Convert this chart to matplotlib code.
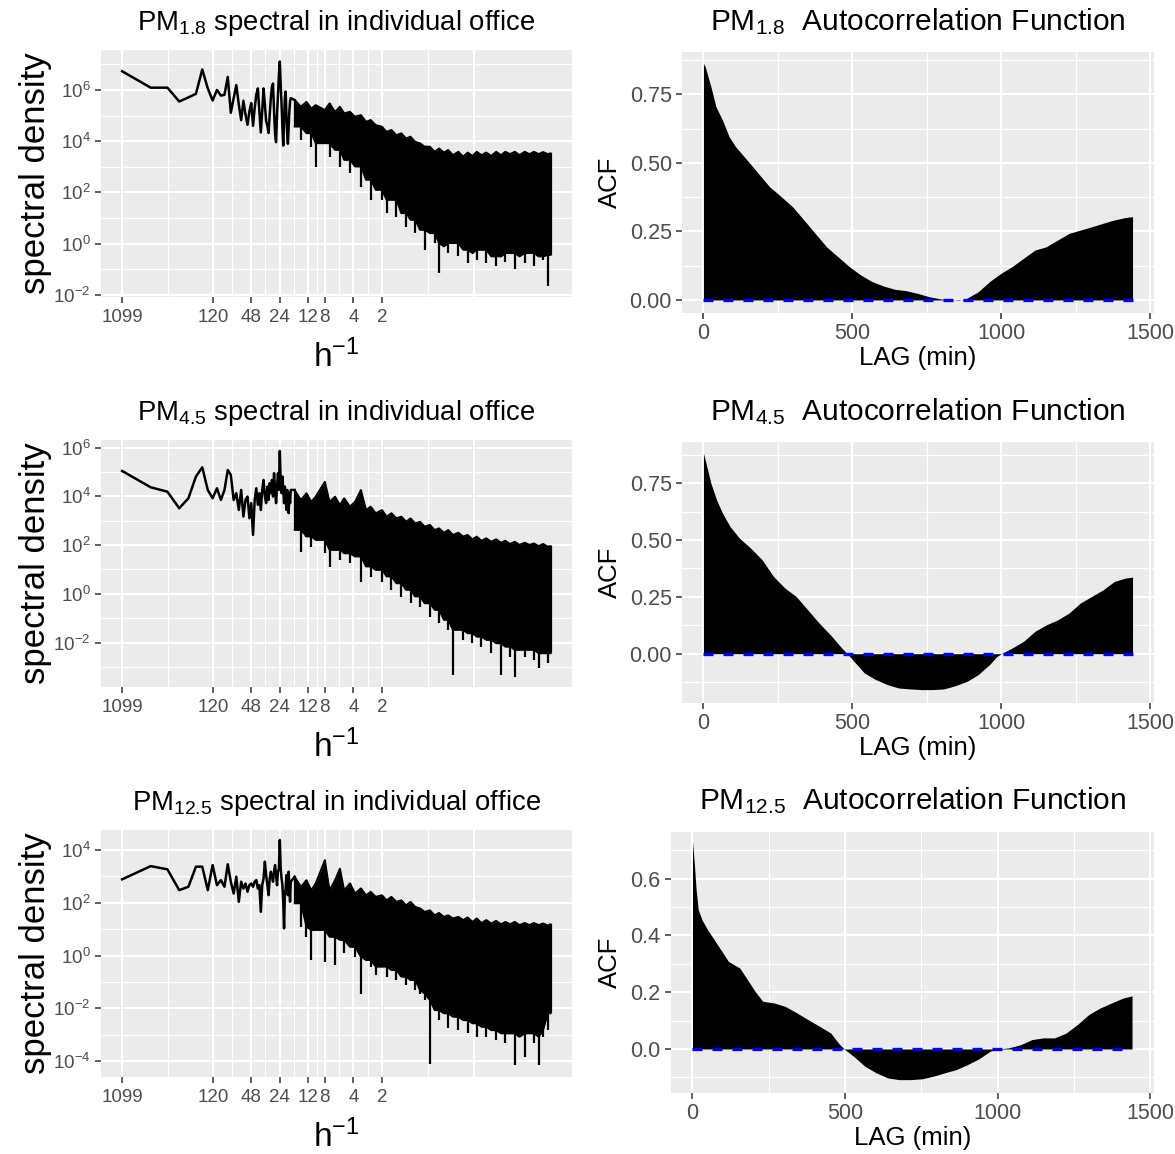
import numpy as np
import matplotlib
matplotlib.use('Agg')
import matplotlib.pyplot as plt
from matplotlib.ticker import FixedLocator, NullFormatter

plt.rcParams['font.family'] = ['Liberation Sans', 'DejaVu Sans']
plt.rcParams['mathtext.fontset'] = 'custom'
plt.rcParams['mathtext.rm'] = 'Liberation Sans'
plt.rcParams['mathtext.it'] = 'Liberation Sans:italic'
plt.rcParams['mathtext.bf'] = 'Liberation Sans:bold'

W, H = 1175, 1154
RECORD_H = 1099          # record length in hours; harmonic k sits at k / 1099 h^-1

# ===================== data =====================
# low-frequency part of the periodogram: one value per harmonic (log10 of spectral density)
harmonic = list(range(1, 61))
pm18_low = [6.73, 6.09, 6.09, 5.55, 5.71, 5.85, 6.80, 6.06, 5.59, 6.00,
            5.78, 5.81, 6.51, 5.11, 5.68, 6.19, 5.43, 4.82, 5.58, 5.04,
            4.64, 5.17, 5.49, 4.60, 5.30, 5.81, 6.06, 5.17, 4.34, 5.17,
            6.06, 5.43, 4.79, 4.60, 4.32, 5.04, 5.68, 6.13, 6.25, 5.17,
            4.28, 3.96, 5.04, 5.81, 6.57, 7.11, 6.19, 5.43, 4.54, 3.83,
            4.79, 5.68, 5.94, 5.04, 4.28, 3.90, 4.54, 5.17, 5.55, 5.68]
pm45_low = [5.04, 4.37, 4.19, 3.51, 3.92, 4.81, 5.19, 4.26, 3.92, 4.33,
            3.85, 4.26, 5.08, 4.88, 3.85, 4.13, 3.44, 4.26, 3.17, 3.85,
            3.99, 3.10, 3.72, 2.42, 3.85, 4.33, 3.65, 4.13, 3.44, 4.26,
            4.67, 3.99, 3.72, 4.40, 3.85, 4.54, 4.13, 4.67, 3.99, 4.95,
            4.26, 3.72, 4.40, 4.95, 4.26, 5.86, 4.54, 4.13, 4.81, 4.26,
            3.72, 4.40, 3.99, 3.44, 4.26, 3.85, 3.31, 4.13, 3.72, 4.26]
pm125_low = [2.89, 3.39, 3.27, 2.48, 2.61, 3.37, 3.37, 2.48, 3.43, 2.67,
             2.86, 2.61, 3.46, 2.80, 2.35, 2.99, 2.04, 2.80, 2.54, 2.73,
             2.42, 2.67, 2.73, 2.61, 2.80, 2.86, 2.54, 2.67, 1.66, 2.67,
             2.92, 3.56, 3.05, 2.67, 2.29, 2.92, 3.18, 2.99, 2.80, 3.18,
             3.43, 3.05, 2.67, 3.18, 3.30, 4.38, 3.30, 2.92, 2.67, 2.04,
             1.03, 2.29, 2.54, 3.05, 2.80, 2.29, 3.18, 2.67, 2.04, 2.80]

# high-frequency part: the trace is a dense band, kept as its top and bottom (log10)
dense_freq = [0.06, 0.07, 0.08, 0.09, 0.1, 0.125, 0.14, 0.16, 0.18, 0.2,
              0.23, 0.26, 0.3, 0.34, 0.38, 0.43, 0.5, 0.56, 0.63, 0.71,
              0.8, 0.9, 1.0, 1.12, 1.26, 1.41, 1.6, 1.8, 2.0, 2.25,
              2.5, 2.8, 3.2, 3.6, 4.0, 4.5, 5.0, 5.6, 6.3, 7.1,
              8.0, 9.0, 10, 11.2, 12.6, 14.1, 16, 18, 20, 22.5,
              25, 28, 30]
pm18_top = [5.61, 5.35, 5.54, 5.28, 5.41, 5.22, 5.48, 5.15, 5.35, 5.09,
            5.15, 4.96, 5.02, 4.76, 4.83, 4.63, 4.57, 4.37, 4.44, 4.24,
            4.31, 4.11, 4.18, 3.98, 3.92, 3.79, 3.79, 3.59, 3.72, 3.56,
            3.66, 3.46, 3.59, 3.40, 3.56, 3.43, 3.59, 3.46, 3.56, 3.43,
            3.59, 3.46, 3.59, 3.50, 3.59, 3.46, 3.59, 3.50, 3.59, 3.50,
            3.58, 3.50, 3.53]
pm18_bottom = [4.57, 4.05, 4.31, 3.79, 3.01, 3.92, 3.40, 3.66, 3.01, 3.27,
               2.75, 3.01, 2.23, 2.49, 1.71, 2.10, 1.71, 1.19, 1.71, 1.06,
               1.19, 0.67, 0.93, 0.41, 0.54, -0.24, 0.41, 0.02, -1.15, -0.11,
               -0.37, 0.02, -0.50, -0.24, -0.76, -0.37, -0.63, -0.24, -0.76, -0.50,
               -0.89, -0.50, -0.70, -0.37, -1.00, -0.50, -0.76, -0.37, -0.89, -0.50,
               -0.63, -1.67, -0.44]
pm45_top = [4.26, 3.85, 4.13, 3.78, 3.99, 4.60, 3.78, 3.99, 3.65, 3.92,
            3.58, 3.78, 4.26, 3.44, 3.58, 3.31, 3.44, 3.17, 3.31, 3.10,
            3.17, 2.96, 3.10, 2.89, 2.96, 2.76, 2.83, 2.62, 2.69, 2.51,
            2.62, 2.42, 2.51, 2.35, 2.42, 2.24, 2.35, 2.18, 2.28, 2.14,
            2.24, 2.10, 2.18, 2.05, 2.14, 2.01, 2.10, 2.01, 2.07, 1.96,
            2.05, 1.94, 1.96]
pm45_bottom = [2.62, 1.73, 2.35, 1.94, 2.21, 1.66, 1.12, 1.80, 1.39, 1.66,
               1.25, 1.53, 0.50, 1.12, 0.71, 0.98, 0.50, 0.71, 0.16, 0.43,
               -0.11, 0.16, -0.39, -0.11, -0.53, -0.39, -0.94, -0.66, -1.21, -1.07,
               -1.48, -3.33, -1.48, -1.89, -1.62, -2.03, -1.76, -2.17, -1.89, -2.44,
               -2.03, -3.33, -2.17, -2.58, -3.40, -2.30, -2.58, -2.30, -2.71, -3.06,
               -2.44, -2.85, -2.44]
pm125_top = [2.99, 2.61, 2.86, 2.48, 2.74, 3.62, 2.48, 2.86, 3.30, 2.48,
             2.74, 2.36, 2.55, 2.29, 2.42, 2.23, 2.29, 2.10, 2.23, 2.04,
             2.10, 1.91, 2.04, 1.85, 1.79, 1.66, 1.72, 1.53, 1.62, 1.47,
             1.53, 1.41, 1.47, 1.35, 1.45, 1.28, 1.41, 1.24, 1.35, 1.22,
             1.32, 1.19, 1.28, 1.19, 1.28, 1.16, 1.24, 1.16, 1.24, 1.16,
             1.22, 1.14, 1.19]
pm125_bottom = [1.98, 1.09, 0.71, -0.17, 0.97, -0.24, 0.71, -0.36, 0.59, 0.08,
                0.33, -0.05, -1.44, -0.17, -0.42, -0.74, -0.42, -0.80, -0.55, -0.93,
                -0.80, -1.12, -0.93, -1.31, -1.44, -1.69, -4.09, -2.07, -2.45, -2.19,
                -2.76, -2.32, -2.83, -2.45, -2.95, -2.57, -3.08, -2.70, -3.08, -2.83,
                -3.21, -2.95, -3.33, -2.95, -4.15, -3.08, -3.84, -2.95, -3.33, -4.15,
                -3.08, -2.83, -2.19]

# x axis breaks, labelled by period in hours
period_ticks = [1099, 120, 48, 24, 12, 8, 4, 2]
period_labels = ['1099', '120', '48', '24', '12', '8', '4', '2']

# autocorrelation, lag in minutes
pm18_lag = [0, 6, 25, 42, 64, 86, 108, 146, 184, 222, 261, 299, 337, 375, 413,
            451, 489, 528, 566, 604, 642, 680, 719, 757, 795, 833, 858, 884, 922,
            960, 998, 1036, 1074, 1112, 1150, 1189, 1227, 1265, 1303, 1341, 1379,
            1417, 1440]
pm18_acf = [0.863, 0.851, 0.778, 0.705, 0.656, 0.596, 0.559, 0.511, 0.462, 0.413,
            0.377, 0.340, 0.292, 0.243, 0.194, 0.158, 0.122, 0.091, 0.067, 0.051,
            0.039, 0.034, 0.024, 0.012, 0.004, 0.0, -0.002, 0.006, 0.030, 0.067,
            0.097, 0.122, 0.152, 0.182, 0.194, 0.219, 0.243, 0.255, 0.267, 0.280,
            0.292, 0.301, 0.304]
pm45_lag = [0, 6, 25, 44, 64, 89, 121, 159, 197, 235, 273, 311, 350, 388, 426,
            464, 483, 502, 540, 578, 617, 655, 693, 731, 769, 807, 845, 884, 922,
            960, 985, 1004, 1036, 1074, 1112, 1151, 1189, 1227, 1265, 1303, 1341,
            1379, 1417, 1440]
pm45_acf = [0.882, 0.852, 0.750, 0.677, 0.618, 0.560, 0.508, 0.464, 0.413, 0.340,
            0.289, 0.252, 0.193, 0.135, 0.083, 0.025, 0.0, -0.029, -0.085, -0.114,
            -0.136, -0.151, -0.155, -0.158, -0.158, -0.155, -0.141, -0.122, -0.092, -0.048,
            -0.012, 0.003, 0.025, 0.054, 0.098, 0.127, 0.149, 0.179, 0.223, 0.252,
            0.281, 0.318, 0.333, 0.337]
pm125_lag = [0, 6, 12, 19, 31, 50, 68, 93, 118, 155, 180, 205, 230, 267, 304,
             342, 379, 416, 453, 478, 497, 528, 565, 602, 640, 677, 714, 752, 789,
             826, 863, 901, 938, 975, 1000, 1037, 1075, 1112, 1149, 1186, 1224,
             1261, 1298, 1335, 1373, 1410, 1440]
pm125_acf = [0.730, 0.654, 0.560, 0.490, 0.455, 0.419, 0.390, 0.349, 0.308, 0.285,
             0.244, 0.203, 0.168, 0.162, 0.150, 0.127, 0.103, 0.080, 0.056, 0.021,
             0.0, -0.026, -0.061, -0.084, -0.102, -0.108, -0.108, -0.105, -0.096, -0.084,
             -0.073, -0.055, -0.035, -0.008, 0.0, 0.004, 0.015, 0.033, 0.039, 0.039,
             0.056, 0.086, 0.121, 0.144, 0.162, 0.179, 0.187]

# ===================== style =====================
BG = '#EBEBEB'
TXT = '#4D4D4D'
TK = '#333333'


def px_rect(x0, y0, x1, y1):
    return [x0 / W, 1 - y1 / H, (x1 - x0) / W, (y1 - y0) / H]


def base_style(ax, size, pad):
    ax.set_facecolor(BG)
    for s in ax.spines.values():
        s.set_visible(False)
    ax.tick_params(which='major', length=4.3, width=1.1, color=TK,
                   labelcolor=TXT, labelsize=size, pad=pad)
    ax.tick_params(which='minor', length=0)
    ax.grid(which='major', color='white', lw=1.5)
    ax.grid(which='minor', color='white', lw=0.8)
    ax.set_axisbelow(True)


fig = plt.figure(figsize=(W / 100, H / 100), dpi=100)


def spectral_panel(rect, low, top, bottom, ylog, yexp, name):
    ax = fig.add_axes(px_rect(*rect))
    base_style(ax, 13.5, 3)
    ax.tick_params(axis='x', pad=4.5)
    ax.set_xscale('log')
    ax.set_yscale('log')

    f_low = list(np.array(harmonic) / RECORD_H) + [dense_freq[0]]
    v_low = np.power(10.0, low + [top[0]])
    ax.plot(f_low, v_low, color='black', lw=1.8, zorder=3)

    # solid body of the band down to the shallower neighbouring trough,
    # deeper troughs drawn as thin spikes
    up = np.power(10.0, top)
    dn = np.power(10.0, bottom)
    b = np.array(bottom)
    floor = np.maximum(b, np.maximum(np.r_[b[0], b[:-1]], np.r_[b[1:], b[-1]]))
    ax.fill_between(dense_freq, np.power(10.0, floor), up, color='black', lw=0, zorder=3)
    ax.plot(dense_freq, up, color='black', lw=1.3, zorder=3)
    ax.vlines(dense_freq, dn, up, color='black', lw=1.6, zorder=3)
    ax.plot(dense_freq, np.power(10.0, floor), color='black', lw=1.3, zorder=3)

    fticks = [1.0 / p for p in period_ticks]
    ax.xaxis.set_major_locator(FixedLocator(fticks))
    ax.set_xticklabels(period_labels)
    extra_major = 4.64
    mids = [np.sqrt(a * b_) for a, b_ in zip(fticks[:-1], fticks[1:])]
    mids.append(np.sqrt(fticks[-1] * extra_major))
    ax.xaxis.set_minor_locator(FixedLocator(mids))
    ax.xaxis.set_minor_formatter(NullFormatter())
    ax.axvline(extra_major, color='white', lw=1.5, zorder=0.6)

    ax.yaxis.set_major_locator(FixedLocator([10.0 ** e for e in yexp]))
    ax.set_yticklabels(['$10^{%d}$' % e for e in yexp])
    lo, hi = ylog
    odd = [10.0 ** e for e in range(int(np.floor(lo)), int(np.ceil(hi)) + 1) if e % 2 != 0]
    ax.yaxis.set_minor_locator(FixedLocator(odd))
    ax.yaxis.set_minor_formatter(NullFormatter())

    ax.set_xlim(10 ** -3.267, 10 ** 1.703)
    ax.set_ylim(10 ** lo, 10 ** hi)

    x0, y0, x1, y1 = rect
    cx = (x0 + x1) / 2
    fig.text(cx / W, 1 - (y0 - 20) / H, r'$\mathrm{PM}_{%s}$ spectral in individual office' % name,
             ha='center', va='baseline', fontsize=19.8)
    fig.text(36 / W, 1 - (y0 + y1) / 2 / H, 'spectral density', rotation=90,
             ha='center', va='center', fontsize=25)
    fig.text(cx / W, 1 - (y1 + 70) / H, r'$\mathrm{h}^{-1}$', ha='center',
             va='baseline', fontsize=24)
    return ax


def acf_panel(rect, lag, acf, ylim, yticks, ylabels, name):
    ax = fig.add_axes(px_rect(*rect))
    base_style(ax, 15.5, 3)
    ax.fill_between(lag, acf, 0, color='black', lw=0, zorder=3)
    ax.plot([0, 1440], [0, 0], color='blue', lw=2.4, ls=(0, (3, 3)), zorder=4)
    ax.set_xlim(-72, 1512)
    ax.set_xticks([0, 500, 1000, 1500])
    ax.set_xticklabels(['0', '500', '1000', '1500'])
    ax.xaxis.set_minor_locator(FixedLocator([250, 750, 1250]))
    ax.set_yticks(yticks)
    ax.set_yticklabels(ylabels)
    step = yticks[1] - yticks[0]
    ax.yaxis.set_minor_locator(FixedLocator([t + step / 2 for t in [yticks[0] - step] + yticks]))
    ax.set_ylim(*ylim)

    x0, y0, x1, y1 = rect
    cx = (x0 + x1) / 2
    fig.text(cx / W, 1 - (y0 - 22) / H, r'$\mathrm{PM}_{%s}$  Autocorrelation Function' % name,
             ha='center', va='baseline', fontsize=21.5)
    fig.text(610 / W, 1 - (y0 + y1) / 2 / H, 'ACF', rotation=90,
             ha='center', va='center', fontsize=18.5)
    fig.text(cx / W, 1 - (y1 + 52) / H, 'LAG (min)', ha='center',
             va='baseline', fontsize=18.5)
    return ax


spectral_panel((100.7, 50, 572, 296.7), pm18_low, pm18_top, pm18_bottom,
               (-2.07, 7.56), [-2, 0, 2, 4, 6], '1.8')
spectral_panel((100.7, 440, 572, 686.7), pm45_low, pm45_top, pm45_bottom,
               (-3.81, 6.31), [-2, 0, 2, 4, 6], '4.5')
spectral_panel((100.7, 830, 572, 1076.7), pm125_low, pm125_top, pm125_bottom,
               (-4.59, 4.76), [-4, -2, 0, 2, 4], '12.5')

acf_panel((682, 51.7, 1154, 313.3), pm18_lag, pm18_acf, (-0.0486, 0.906),
          [0.0, 0.25, 0.5, 0.75], ['0.00', '0.25', '0.50', '0.75'], '1.8')
acf_panel((682, 441.7, 1154, 703), pm45_lag, pm45_acf, (-0.217, 0.933),
          [0.0, 0.25, 0.5, 0.75], ['0.00', '0.25', '0.50', '0.75'], '4.5')
acf_panel((670.5, 831.7, 1154, 1093), pm125_lag, pm125_acf, (-0.155, 0.765),
          [0.0, 0.2, 0.4, 0.6], ['0.0', '0.2', '0.4', '0.6'], '12.5')

fig.savefig('out.png', dpi=100)
